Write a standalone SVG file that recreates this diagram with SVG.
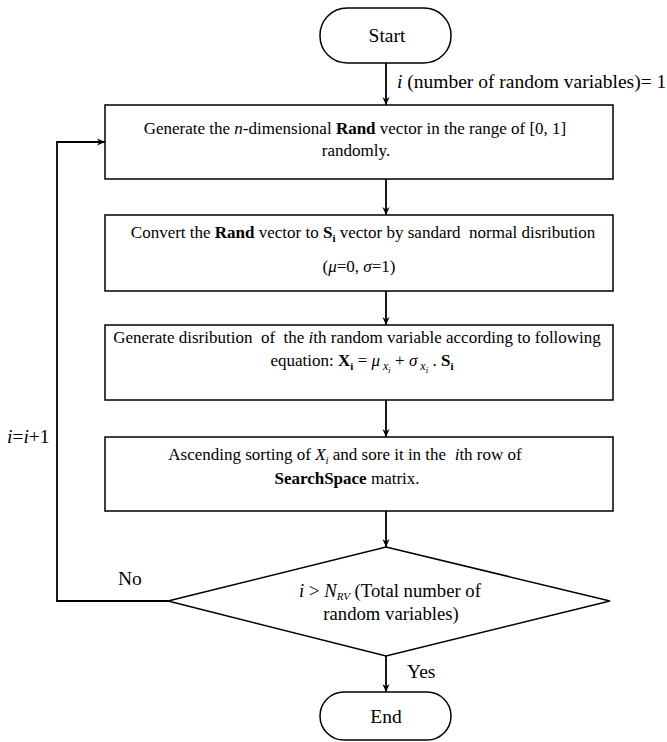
<svg xmlns="http://www.w3.org/2000/svg" width="667" height="742" viewBox="0 0 667 742">
<defs>
<style>
text{font-family:"Liberation Serif","Times New Roman",serif;font-size:17px;fill:#000;white-space:pre}
.c{text-anchor:middle}
.b{font-weight:bold}
.i{font-style:italic}
.s{font-size:11px}
.ss{font-size:12px}
.big{font-size:19.5px}
.mid{font-size:18.7px}
.node{fill:#fff;stroke:#000;stroke-width:1.5}
.edge{fill:none;stroke:#000;stroke-width:1.8}
</style>
<marker id="ah" viewBox="0 0 10 10" refX="10" refY="5" markerWidth="8" markerHeight="8" markerUnits="userSpaceOnUse" orient="auto">
<path d="M0,0.5 L10,5 L0,9.5 L3,5 z" fill="#000"/>
</marker>
</defs>
<g id="connectors">
<line class="edge" x1="386" y1="63" x2="386" y2="105" marker-end="url(#ah)"/>
<line class="edge" x1="386" y1="179" x2="386" y2="215" marker-end="url(#ah)"/>
<line class="edge" x1="386" y1="291" x2="386" y2="325" marker-end="url(#ah)"/>
<line class="edge" x1="386" y1="400" x2="386" y2="437" marker-end="url(#ah)"/>
<line class="edge" x1="386" y1="511" x2="386" y2="547" marker-end="url(#ah)"/>
<line class="edge" x1="386" y1="656" x2="386" y2="692" marker-end="url(#ah)"/>
<polyline class="edge" points="168,601 57,601 57,142 105,142" marker-end="url(#ah)"/>
<text class="big" x="397" y="88"><tspan class="i">i</tspan> (number of random variables)= 1</text>
<text class="big" x="7" y="443"><tspan class="i">i</tspan>=<tspan class="i">i</tspan>+1</text>
<text class="big" x="118" y="585">No</text>
<text class="big" x="407" y="678">Yes</text>
</g>
<g id="start">
<rect class="node" x="320" y="8" width="131" height="55" rx="27"/>
<text class="c big" x="387" y="42">Start</text>
</g>
<g id="box1">
<rect class="node" x="105" y="105" width="508" height="74"/>
<text class="c" x="355" y="134">Generate the <tspan class="i">n</tspan>-dimensional <tspan class="b">Rand</tspan> vector in the range of [0, 1]</text>
<text class="c" x="356" y="156">randomly.</text>
</g>
<g id="box2">
<rect class="node" x="105" y="215" width="508" height="76"/>
<text class="c" x="363" y="238">Convert the <tspan class="b">Rand</tspan> vector to <tspan class="b">S</tspan><tspan class="b s" dy="4">i</tspan><tspan dy="-4"> vector by sandard  normal disribution</tspan></text>
<text class="c" x="359" y="272">(<tspan class="i">μ</tspan>=0, <tspan class="i">σ</tspan>=1)</text>
</g>
<g id="box3">
<rect class="node" x="105" y="325" width="508" height="75"/>
<text class="c" x="357" y="343">Generate disribution  of  the <tspan class="i">i</tspan>th random variable according to following</text>
<text class="c" x="362" y="366">equation: <tspan class="b">X</tspan><tspan class="b s" dy="4">i</tspan><tspan dy="-4"> = </tspan><tspan class="i">μ</tspan><tspan class="i ss" dy="4"> x</tspan><tspan class="i" style="font-size:9px" dy="3">i</tspan><tspan dy="-7"> + </tspan><tspan class="i">σ</tspan><tspan class="i ss" dy="4"> x</tspan><tspan class="i" style="font-size:9px" dy="3">i</tspan><tspan dy="-7"> . </tspan><tspan class="b">S</tspan><tspan class="b s" dy="4">i</tspan></text>
</g>
<g id="box4">
<rect class="node" x="105" y="437" width="508" height="74"/>
<text class="c" x="345" y="460">Ascending sorting of <tspan class="i">X</tspan><tspan class="i s" dy="4">i</tspan><tspan dy="-4"> and sore it in the  </tspan><tspan class="i">i</tspan>th row of</text>
<text class="c" x="347" y="484"><tspan class="b">SearchSpace</tspan> matrix.</text>
</g>
<g id="decision">
<polygon class="node" points="386,547 610,601 386,656 168,601"/>
<text class="c mid" x="390" y="597"><tspan class="i">i</tspan> &gt; <tspan class="i">N</tspan><tspan class="i s" dy="3">RV</tspan><tspan dy="-3"> (Total number of</tspan></text>
<text class="c mid" x="391" y="620">random variables)</text>
</g>
<g id="end">
<rect class="node" x="320" y="692" width="131" height="48" rx="24"/>
<text class="c big" x="386" y="723">End</text>
</g>
</svg>
